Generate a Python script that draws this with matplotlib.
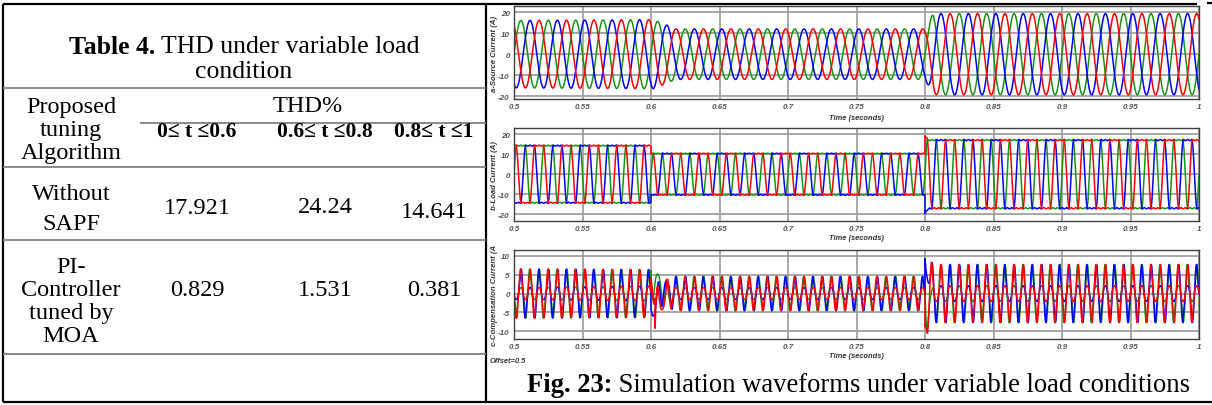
import numpy as np
import matplotlib.pyplot as plt

# table values
period_labels = ["0≤ t ≤0.6", "0.6≤ t ≤0.8", "0.8≤ t ≤1"]
method_without = ["Without", "SAPF"]
method_pi = ["PI-", "Controller", "tuned by", "MOA"]
thd_without = [17.921, 24.24, 14.641]
thd_pi = [0.829, 1.531, 0.381]

# scope waveforms
freq = 50.0
xticks = [0.5, 0.55, 0.6, 0.65, 0.7, 0.75, 0.8, 0.85, 0.9, 0.95, 1.0]
xticklabels = ['0.5', '0.55', '0.6', '0.65', '0.7', '0.75', '0.8', '0.85', '0.9', '0.95', '1']
phase_shift = [0, -120, 120]          # green, blue, red
phase_colors = ['#169416', '#0000ff', '#ff0000']

# source current peak envelope
src_env_t = [0.5, 0.602, 0.618, 0.8, 0.806, 1.0]
src_env_a = [16.0, 16.4, 12.0, 12.0, 19.3, 19.3]

# load current level per interval, and one cycle of its (clipped) shape
load_switch_t = [0.5, 0.6, 0.8]
load_level = [14.5, 10.5, 17.3]
shape_deg = [0, 10, 20, 27, 35, 60, 90, 120, 145, 153, 160, 170,
             180, 190, 200, 207, 215, 240, 270, 300, 325, 333, 340, 350, 360]
shape_val = [0, 0.45, 0.8, 0.95, 1.0, 0.96, 1.0, 0.96, 1.0, 0.95, 0.8, 0.45,
             0, -0.45, -0.8, -0.95, -1.0, -0.96, -1.0, -0.96, -1.0, -0.95, -0.8, -0.45, 0]

# transients at the load steps
load_spike_t = [0.8, 0.8]
load_spike_ph = [1, 2]
load_spike_a = [-3.0, 2.5]
comp_spike_t = [0.6, 0.603]
comp_spike_ph = [0, 2]
comp_spike_a = [6.0, -8.0]

W, H = 1212, 406
fig = plt.figure(figsize=(W / 100, H / 100), dpi=100)
fig.patch.set_facecolor('white')

# overlay in pixel coordinates for the table and frame
ov = fig.add_axes([0, 0, 1, 1])
ov.set_xlim(0, W)
ov.set_ylim(H, 0)
ov.axis('off')

blk = dict(color='black', lw=1.6, solid_capstyle='butt')
gry = dict(color='#808080', lw=1.3, solid_capstyle='butt')
ov.plot([3, 1197], [5, 5], **blk)
ov.plot([1207, 1212], [4, 4], **blk)
ov.plot([3, 1212], [403, 403], **blk)
ov.plot([3, 3], [5, 403], **blk)
ov.plot([486, 486], [5, 403], **blk)
for yy in [89, 168, 241, 355]:
    ov.plot([3, 486], [yy, yy], **gry)
ov.plot([140, 486], [124, 124], **gry)

serif = ['Liberation Serif', 'DejaVu Serif']
fs = 17.5
renderer = fig.canvas.get_renderer()


def bold_lead(x, y, bold, rest, size, center):
    a = ov.text(x, y, bold, fontsize=size, fontweight='bold', family=serif,
                ha='left', va='center')
    b = ov.annotate(rest, xy=(1, 0.5), xycoords=a, fontsize=size,
                    family=serif, ha='left', va='center')
    if center:
        wa = a.get_window_extent(renderer).width
        wb = b.get_window_extent(renderer).width
        a.set_x(x - (wa + wb) / 2)


bold_lead(244, 47, "Table 4.", " THD under variable load", 18.5, True)
ov.text(244, 72, "condition", fontsize=18.5, family=serif, ha='center', va='center')

col1_x = 71
col_x = [197, 325, 434]
for txt, yy in zip(["Proposed", "tuning", "Algorithm"], [107, 131, 154]):
    ov.text(col1_x, yy, txt, fontsize=fs, family=serif, ha='center', va='center')
ov.text(308, 107, "THD%", fontsize=fs, family=serif, ha='center', va='center')
for lab, xx in zip(period_labels, col_x):
    ov.text(xx, 132, lab, fontsize=15.5, fontweight='bold', family=serif,
            ha='center', va='center')

for txt, yy in zip(method_without, [195, 225]):
    ov.text(col1_x, yy, txt, fontsize=fs, family=serif, ha='center', va='center')
for v, xx, yy in zip(thd_without, col_x, [209, 208, 213]):
    ov.text(xx, yy, str(v), fontsize=fs, family=serif, ha='center', va='center')

for txt, yy in zip(method_pi, [268, 291, 314, 337]):
    ov.text(col1_x, yy, txt, fontsize=fs, family=serif, ha='center', va='center')
for v, xx in zip(thd_pi, col_x):
    ov.text(xx, 291, str(v), fontsize=fs, family=serif, ha='center', va='center')

bold_lead(527, 386, "Fig. 23:", " Simulation waveforms under variable load conditions",
          19.2, False)

# waveforms
t = np.linspace(0.5, 1.0, 20001)
env = np.interp(t, src_env_t, src_env_a)
lvl = np.array(load_level)[np.searchsorted(load_switch_t, t, side='right') - 1]


def spikes(times, phs, amps, k, tau):
    out = np.zeros_like(t)
    for ts, p, a in zip(times, phs, amps):
        if p == k:
            out += np.where(t >= ts, a * np.exp(-(t - ts) / tau), 0.0)
    return out


src, load, comp = [], [], []
for k, sh in enumerate(phase_shift):
    th = (360 * freq * (t - 0.5) + sh) % 360
    s = env * np.sin(np.radians(th))
    l = lvl * np.interp(th, shape_deg, shape_val)
    l = l + spikes(load_spike_t, load_spike_ph, load_spike_a, k, 0.0012)
    c = s - l + spikes(comp_spike_t, comp_spike_ph, comp_spike_a, k, 0.0008)
    src.append(s)
    load.append(l)
    comp.append(c)

sans = ['Liberation Sans', 'DejaVu Sans']
panels = [
    (7, 100, src, (-21.3, 22.9), [-20, -10, 0, 10, 20], "a-Source Current (A)", 118),
    (129, 222, load, (-23.3, 23.0), [-20, -10, 0, 10, 20], "b-Load Current (A)", 239),
    (251, 340, comp, (-12.0, 11.5), [-10, -5, 0, 5, 10], "c-Compensation Current (A", 357),
]
x0, x1 = 514, 1199
for top, bot, series, ylim, yt, ylab, ty in panels:
    ax = fig.add_axes([x0 / W, 1 - bot / H, (x1 - x0) / W, (bot - top) / H])
    for k in [0, 1, 2]:
        ax.plot(t, series[k], color=phase_colors[k], lw=1.1)
    ax.set_xlim(0.5, 1.0)
    ax.set_ylim(*ylim)
    ax.set_xticks(xticks, xticklabels, fontsize=5.8, fontweight='bold',
                  fontstyle='italic', family=sans)
    ax.set_yticks(yt, [str(v) for v in yt], fontsize=5.8, fontweight='bold',
                  fontstyle='italic', family=sans)
    ax.tick_params(length=0, pad=3, colors='#555555')
    ax.grid(True, color='#a0a0a0', lw=1.3)
    ax.set_axisbelow(True)
    for sp in ax.spines.values():
        sp.set_color('#404040')
        sp.set_linewidth(1.0)
    ov.text(495, (top + bot) / 2, ylab, rotation=90, fontsize=5.6,
            fontweight='bold', fontstyle='italic', family=sans,
            ha='center', va='center', color='#333333')
    ov.text(856, ty, "Time (seconds)", fontsize=5.4, fontweight='bold',
            fontstyle='italic', family=sans, ha='center', va='center',
            color='#333333')

ov.text(490, 362, "Offset=0.5", fontsize=5.4, fontweight='bold',
        fontstyle='italic', family=sans, ha='left', va='center', color='#333333')

fig.savefig('out.png', dpi=100)
